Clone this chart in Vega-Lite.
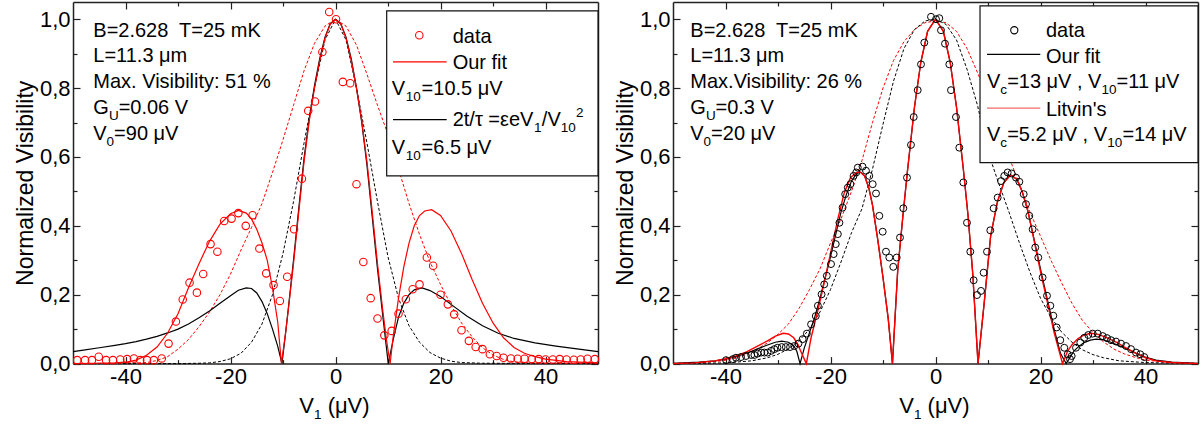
{
  "$schema": "https://vega.github.io/schema/vega-lite/v6.json",
  "background": "white",
  "padding": {"left": 14, "top": 1, "right": 4, "bottom": 0},
  "spacing": 13,
  "config": {
    "view": {"stroke": null},
    "font": "Liberation Sans",
    "axis": {"grid": false, "labelFontSize": 22, "titleFontSize": 23, "titleFontWeight": "normal", "domainColor": "#222", "tickColor": "#222", "labelColor": "#000", "titleColor": "#000", "tickWidth": 1.2, "domainWidth": 1.5}
  },
  "datasets": {
    "Lpts": [
      {"v":-49.2,"y":0.01},{"v":-47.7,"y":0.01},{"v":-46.4,"y":0.01},{"v":-45.1,"y":0.02},{"v":-43.7,"y":0.01},{"v":-42.4,"y":0.01},{"v":-41.0,"y":0.012},{"v":-39.7,"y":0.013},{"v":-38.4,"y":0.015},{"v":-37.2,"y":0.01},{"v":-35.9,"y":0.01},{"v":-34.6,"y":0.01},{"v":-33.1,"y":0.015},{"v":-31.8,"y":0.058},{"v":-30.4,"y":0.122},{"v":-29.1,"y":0.186},{"v":-27.8,"y":0.235},{"v":-26.4,"y":0.206},{"v":-25.2,"y":0.26},{"v":-23.8,"y":0.347},{"v":-22.5,"y":0.325},{"v":-21.2,"y":0.414},{"v":-19.8,"y":0.421},{"v":-18.5,"y":0.437},{"v":-17.1,"y":0.40},{"v":-15.8,"y":0.431},{"v":-14.5,"y":0.334},{"v":-13.2,"y":0.262},{"v":-11.8,"y":0.228},{"v":-10.6,"y":0.182},{"v":-9.2,"y":0.252},{"v":-7.9,"y":0.39},{"v":-6.4,"y":0.537},{"v":-5.2,"y":0.734},{"v":-3.9,"y":0.761},{"v":-2.5,"y":0.905},{"v":-1.2,"y":1.021},{"v":0.1,"y":1.0},{"v":1.4,"y":0.818},{"v":2.8,"y":0.814},{"v":4.0,"y":0.521},{"v":5.3,"y":0.295},{"v":6.7,"y":0.19},{"v":8.0,"y":0.131},{"v":9.3,"y":0.082},{"v":10.7,"y":0.095},{"v":12.0,"y":0.145},{"v":13.4,"y":0.187},{"v":14.7,"y":0.216},{"v":16.0,"y":0.23},{"v":17.4,"y":0.308},{"v":18.6,"y":0.284},{"v":20.0,"y":0.2},{"v":21.4,"y":0.172},{"v":22.6,"y":0.143},{"v":24.0,"y":0.097},{"v":25.4,"y":0.066},{"v":26.7,"y":0.048},{"v":28.0,"y":0.042},{"v":29.4,"y":0.027},{"v":30.7,"y":0.022},{"v":32.0,"y":0.017},{"v":33.4,"y":0.015},{"v":34.7,"y":0.014},{"v":36.0,"y":0.014},{"v":37.4,"y":0.013},{"v":38.7,"y":0.013},{"v":40.0,"y":0.012},{"v":41.4,"y":0.012},{"v":42.7,"y":0.013},{"v":44.0,"y":0.012},{"v":45.4,"y":0.011},{"v":46.7,"y":0.012},{"v":48.0,"y":0.014},{"v":49.4,"y":0.013}
    ],
    "Lrs": [
      {"v":-50,"y":0},{"v":-46,"y":0.001},{"v":-42,"y":0.002},{"v":-40,"y":0.004},{"v":-38,"y":0.01},{"v":-36,"y":0.024},{"v":-34,"y":0.048},{"v":-32,"y":0.088},{"v":-30,"y":0.145},{"v":-28,"y":0.22},{"v":-26,"y":0.29},{"v":-24,"y":0.355},{"v":-22,"y":0.405},{"v":-20,"y":0.435},{"v":-18.5,"y":0.445},{"v":-17,"y":0.437},{"v":-16,"y":0.42},{"v":-15,"y":0.39},{"v":-14,"y":0.35},{"v":-13,"y":0.3},{"v":-12,"y":0.22},{"v":-11,"y":0.12},{"v":-10.3,"y":0},{"v":-9.5,"y":0.09},{"v":-9,"y":0.155},{"v":-8,"y":0.29},{"v":-7,"y":0.44},{"v":-6,"y":0.585},{"v":-5,"y":0.705},{"v":-4,"y":0.8},{"v":-3,"y":0.88},{"v":-2,"y":0.945},{"v":-1,"y":0.986},{"v":0,"y":1.0},{"v":1,"y":0.986},{"v":2,"y":0.945},{"v":3,"y":0.88},{"v":4,"y":0.8},{"v":5,"y":0.705},{"v":6,"y":0.585},{"v":7,"y":0.44},{"v":8,"y":0.29},{"v":9,"y":0.155},{"v":9.7,"y":0.07},{"v":10.4,"y":0},{"v":11,"y":0.08},{"v":12,"y":0.19},{"v":13,"y":0.28},{"v":14,"y":0.35},{"v":15,"y":0.4},{"v":16,"y":0.43},{"v":17,"y":0.443},{"v":18.3,"y":0.447},{"v":20,"y":0.43},{"v":22,"y":0.385},{"v":24,"y":0.32},{"v":26,"y":0.245},{"v":28,"y":0.175},{"v":30,"y":0.118},{"v":32,"y":0.075},{"v":34,"y":0.047},{"v":36,"y":0.03},{"v":38,"y":0.02},{"v":40,"y":0.013},{"v":44,"y":0.006},{"v":50,"y":0.002}
    ],
    "Lbs": [
      {"v":-50,"y":0.035},{"v":-48,"y":0.039},{"v":-45,"y":0.046},{"v":-42,"y":0.053},{"v":-40,"y":0.058},{"v":-38,"y":0.064},{"v":-36,"y":0.071},{"v":-34,"y":0.079},{"v":-32,"y":0.089},{"v":-30,"y":0.1},{"v":-28,"y":0.115},{"v":-26,"y":0.133},{"v":-24,"y":0.153},{"v":-22,"y":0.175},{"v":-20,"y":0.197},{"v":-18.5,"y":0.213},{"v":-17,"y":0.22},{"v":-16,"y":0.218},{"v":-15,"y":0.205},{"v":-14,"y":0.18},{"v":-13,"y":0.145},{"v":-12,"y":0.1},{"v":-11,"y":0.05},{"v":-10.2,"y":0},{"v":-9.5,"y":0.09},{"v":-9,"y":0.158},{"v":-8,"y":0.3},{"v":-7,"y":0.45},{"v":-6,"y":0.595},{"v":-5,"y":0.712},{"v":-4,"y":0.807},{"v":-3,"y":0.886},{"v":-2,"y":0.948},{"v":-1,"y":0.987},{"v":0,"y":1.0},{"v":1,"y":0.987},{"v":2,"y":0.948},{"v":3,"y":0.885},{"v":4,"y":0.8},{"v":5,"y":0.7},{"v":6,"y":0.575},{"v":7,"y":0.425},{"v":8,"y":0.275},{"v":9,"y":0.14},{"v":10.05,"y":0},{"v":11,"y":0.07},{"v":12,"y":0.135},{"v":13,"y":0.175},{"v":14,"y":0.2},{"v":15,"y":0.214},{"v":16.5,"y":0.22},{"v":18,"y":0.212},{"v":20,"y":0.195},{"v":22,"y":0.172},{"v":25,"y":0.138},{"v":28,"y":0.11},{"v":31,"y":0.088},{"v":34,"y":0.073},{"v":38,"y":0.06},{"v":42,"y":0.051},{"v":46,"y":0.043},{"v":50,"y":0.035}
    ],
    "Lrd": [
      {"v":-50,"y":0},{"v":-40,"y":0.001},{"v":-36,"y":0.003},{"v":-34,"y":0.009},{"v":-32,"y":0.02},{"v":-30,"y":0.042},{"v":-28,"y":0.07},{"v":-26,"y":0.107},{"v":-24,"y":0.15},{"v":-22,"y":0.2},{"v":-20,"y":0.26},{"v":-18,"y":0.33},{"v":-16,"y":0.395},{"v":-14,"y":0.465},{"v":-12,"y":0.555},{"v":-10,"y":0.65},{"v":-8,"y":0.75},{"v":-6,"y":0.85},{"v":-4,"y":0.93},{"v":-2,"y":0.98},{"v":0,"y":1.0},{"v":2,"y":0.98},{"v":4,"y":0.925},{"v":6,"y":0.84},{"v":8,"y":0.75},{"v":10,"y":0.665},{"v":12,"y":0.565},{"v":14,"y":0.465},{"v":16,"y":0.375},{"v":18,"y":0.295},{"v":20,"y":0.23},{"v":22,"y":0.17},{"v":24,"y":0.118},{"v":26,"y":0.078},{"v":28,"y":0.046},{"v":30,"y":0.025},{"v":32,"y":0.012},{"v":34,"y":0.005},{"v":38,"y":0.001},{"v":50,"y":0}
    ],
    "Lbd": [
      {"v":-50,"y":0},{"v":-30,"y":0},{"v":-26,"y":0.001},{"v":-24,"y":0.002},{"v":-22,"y":0.006},{"v":-20,"y":0.014},{"v":-18,"y":0.03},{"v":-16,"y":0.062},{"v":-14,"y":0.115},{"v":-12,"y":0.2},{"v":-10,"y":0.32},{"v":-8,"y":0.47},{"v":-6,"y":0.64},{"v":-4,"y":0.8},{"v":-2,"y":0.94},{"v":0,"y":1.0},{"v":2,"y":0.94},{"v":4,"y":0.8},{"v":6,"y":0.64},{"v":8,"y":0.47},{"v":10,"y":0.31},{"v":12,"y":0.19},{"v":14,"y":0.11},{"v":16,"y":0.062},{"v":18,"y":0.032},{"v":20,"y":0.016},{"v":22,"y":0.007},{"v":24,"y":0.003},{"v":28,"y":0.001},{"v":50,"y":0}
    ],
    "Rpts": [
      {"v":-39.9,"y":0.01},{"v":-38.6,"y":0.013},{"v":-38.0,"y":0.017},{"v":-37.05,"y":0.019},{"v":-36.1,"y":0.022},{"v":-35.1,"y":0.025},{"v":-34.5,"y":0.025},{"v":-33.9,"y":0.029},{"v":-33.2,"y":0.032},{"v":-32.6,"y":0.032},{"v":-32.0,"y":0.032},{"v":-31.3,"y":0.037},{"v":-30.7,"y":0.042},{"v":-30.1,"y":0.046},{"v":-29.3,"y":0.048},{"v":-28.5,"y":0.048},{"v":-27.7,"y":0.048},{"v":-26.9,"y":0.051},{"v":-26.1,"y":0.058},{"v":-25.3,"y":0.071},{"v":-24.5,"y":0.087},{"v":-23.7,"y":0.114},{"v":-22.8,"y":0.138},{"v":-22.4,"y":0.168},{"v":-21.7,"y":0.201},{"v":-21.2,"y":0.23},{"v":-20.7,"y":0.255},{"v":-19.9,"y":0.289},{"v":-19.4,"y":0.318},{"v":-19.0,"y":0.347},{"v":-18.6,"y":0.376},{"v":-18.3,"y":0.409},{"v":-17.7,"y":0.453},{"v":-17.2,"y":0.492},{"v":-16.7,"y":0.511},{"v":-16.2,"y":0.521},{"v":-15.6,"y":0.545},{"v":-15.1,"y":0.555},{"v":-14.8,"y":0.569},{"v":-13.9,"y":0.572},{"v":-13.24,"y":0.56},{"v":-12.61,"y":0.545},{"v":-11.96,"y":0.521},{"v":-11.33,"y":0.494},{"v":-10.7,"y":0.429},{"v":-10.06,"y":0.383},{"v":-9.43,"y":0.325},{"v":-8.8,"y":0.308},{"v":-8.04,"y":0.281},{"v":-7.39,"y":0.308},{"v":-6.76,"y":0.366},{"v":-6.13,"y":0.451},{"v":-5.43,"y":0.54},{"v":-4.67,"y":0.635},{"v":-4.15,"y":0.716},{"v":-3.39,"y":0.794},{"v":-2.76,"y":0.869},{"v":-2.13,"y":0.932},{"v":-0.86,"y":1.007},{"v":0.1,"y":1.0},{"v":0.72,"y":1.003},{"v":1.05,"y":0.968},{"v":1.81,"y":0.929},{"v":2.63,"y":0.869},{"v":2.95,"y":0.794},{"v":3.9,"y":0.716},{"v":4.54,"y":0.627},{"v":5.3,"y":0.526},{"v":6.0,"y":0.409},{"v":6.63,"y":0.325},{"v":7.27,"y":0.242},{"v":7.9,"y":0.199},{"v":8.67,"y":0.211},{"v":9.17,"y":0.264},{"v":9.81,"y":0.325},{"v":10.44,"y":0.387},{"v":11.08,"y":0.451},{"v":11.84,"y":0.482},{"v":12.48,"y":0.53},{"v":13.1,"y":0.545},{"v":13.75,"y":0.555},{"v":14.5,"y":0.552},{"v":15.33,"y":0.54},{"v":15.97,"y":0.528},{"v":16.8,"y":0.492},{"v":17.24,"y":0.463},{"v":17.87,"y":0.429},{"v":18.5,"y":0.39},{"v":19.0,"y":0.337},{"v":19.58,"y":0.308},{"v":20.4,"y":0.25},{"v":21.24,"y":0.197},{"v":21.87,"y":0.168},{"v":22.44,"y":0.139},{"v":23.08,"y":0.105},{"v":23.77,"y":0.068},{"v":24.53,"y":0.046},{"v":25.18,"y":0.027},{"v":25.62,"y":0.013},{"v":25.94,"y":0.022},{"v":26.76,"y":0.046},{"v":27.58,"y":0.061},{"v":28.34,"y":0.075},{"v":29.1,"y":0.083},{"v":29.94,"y":0.087},{"v":30.9,"y":0.087},{"v":31.85,"y":0.08},{"v":32.67,"y":0.074},{"v":33.43,"y":0.068},{"v":34.38,"y":0.064},{"v":35.33,"y":0.058},{"v":36.29,"y":0.051},{"v":37.24,"y":0.042},{"v":38.19,"y":0.032},{"v":39.0,"y":0.027},{"v":39.77,"y":0.019}
    ],
    "Rrs": [
      {"v":-50,"y":0},{"v":-46,"y":0.002},{"v":-42,"y":0.008},{"v":-40,"y":0.014},{"v":-38,"y":0.022},{"v":-36,"y":0.034},{"v":-34,"y":0.05},{"v":-32,"y":0.066},{"v":-30.5,"y":0.08},{"v":-29,"y":0.088},{"v":-28,"y":0.086},{"v":-27,"y":0.075},{"v":-26.2,"y":0.055},{"v":-25.5,"y":0.03},{"v":-24.6,"y":0},{"v":-23.7,"y":0.075},{"v":-22.4,"y":0.155},{"v":-21.2,"y":0.235},{"v":-20,"y":0.32},{"v":-18.6,"y":0.42},{"v":-17.4,"y":0.495},{"v":-16.2,"y":0.54},{"v":-15,"y":0.555},{"v":-14.3,"y":0.556},{"v":-13.5,"y":0.545},{"v":-12.7,"y":0.51},{"v":-12,"y":0.46},{"v":-11,"y":0.36},{"v":-10,"y":0.25},{"v":-9,"y":0.13},{"v":-8.2,"y":0},{"v":-7.2,"y":0.27},{"v":-6.2,"y":0.43},{"v":-5.3,"y":0.565},{"v":-4,"y":0.745},{"v":-2.8,"y":0.875},{"v":-1.5,"y":0.965},{"v":0,"y":1.0},{"v":1.5,"y":0.965},{"v":2.8,"y":0.875},{"v":4,"y":0.745},{"v":5.3,"y":0.565},{"v":6.2,"y":0.43},{"v":7.1,"y":0.26},{"v":8.1,"y":0},{"v":9.3,"y":0.18},{"v":10.5,"y":0.37},{"v":11.8,"y":0.47},{"v":13,"y":0.525},{"v":14.3,"y":0.548},{"v":15.5,"y":0.535},{"v":16.5,"y":0.5},{"v":17.6,"y":0.443},{"v":18.8,"y":0.356},{"v":20.1,"y":0.26},{"v":21.4,"y":0.172},{"v":22.6,"y":0.09},{"v":24.2,"y":0},{"v":25.2,"y":0.037},{"v":26,"y":0.055},{"v":27.1,"y":0.072},{"v":28.3,"y":0.083},{"v":29.6,"y":0.088},{"v":31,"y":0.085},{"v":32.5,"y":0.076},{"v":34.7,"y":0.06},{"v":36,"y":0.048},{"v":37.9,"y":0.032},{"v":40,"y":0.017},{"v":42,"y":0.008},{"v":45,"y":0.003},{"v":50,"y":0}
    ],
    "Rbs": [
      {"v":-50,"y":0.001},{"v":-45,"y":0.004},{"v":-42,"y":0.008},{"v":-40,"y":0.013},{"v":-38,"y":0.02},{"v":-36,"y":0.03},{"v":-34,"y":0.042},{"v":-32,"y":0.054},{"v":-30.5,"y":0.062},{"v":-29.3,"y":0.065},{"v":-28,"y":0.062},{"v":-27,"y":0.052},{"v":-26.4,"y":0.035},{"v":-25.8,"y":0},{"v":-25,"y":0.045},{"v":-24,"y":0.09},{"v":-23,"y":0.135},{"v":-22,"y":0.19},{"v":-21,"y":0.25},{"v":-20,"y":0.31},{"v":-19,"y":0.375},{"v":-18,"y":0.44},{"v":-17,"y":0.49},{"v":-16,"y":0.53},{"v":-15,"y":0.552},{"v":-14.3,"y":0.556},{"v":-13.5,"y":0.545},{"v":-12.7,"y":0.51},{"v":-12,"y":0.46},{"v":-11,"y":0.36},{"v":-10,"y":0.25},{"v":-9,"y":0.13},{"v":-8.2,"y":0},{"v":-7.2,"y":0.27},{"v":-6.2,"y":0.43},{"v":-5.3,"y":0.565},{"v":-4,"y":0.745},{"v":-2.8,"y":0.875},{"v":-1.5,"y":0.965},{"v":0,"y":1.0},{"v":1.5,"y":0.965},{"v":2.8,"y":0.875},{"v":4,"y":0.745},{"v":5.3,"y":0.565},{"v":6.2,"y":0.43},{"v":7.1,"y":0.26},{"v":8.1,"y":0},{"v":9.3,"y":0.18},{"v":10.5,"y":0.37},{"v":11.8,"y":0.47},{"v":13,"y":0.525},{"v":14.3,"y":0.548},{"v":15.5,"y":0.535},{"v":16.5,"y":0.5},{"v":17.6,"y":0.443},{"v":18.8,"y":0.36},{"v":20.1,"y":0.268},{"v":21.4,"y":0.18},{"v":22.6,"y":0.1},{"v":23.8,"y":0.03},{"v":24.9,"y":0},{"v":25.7,"y":0.02},{"v":26.4,"y":0.037},{"v":27.3,"y":0.05},{"v":28.3,"y":0.061},{"v":29.5,"y":0.068},{"v":30.6,"y":0.071},{"v":32,"y":0.069},{"v":33.4,"y":0.062},{"v":35,"y":0.052},{"v":36.6,"y":0.042},{"v":38.2,"y":0.03},{"v":39.8,"y":0.02},{"v":42,"y":0.01},{"v":45,"y":0.004},{"v":50,"y":0.001}
    ],
    "Rrd": [
      {"v":-50,"y":0.001},{"v":-44,"y":0.003},{"v":-40,"y":0.009},{"v":-38,"y":0.016},{"v":-36,"y":0.027},{"v":-34,"y":0.042},{"v":-32,"y":0.06},{"v":-30,"y":0.085},{"v":-28,"y":0.115},{"v":-26,"y":0.16},{"v":-24,"y":0.215},{"v":-22,"y":0.275},{"v":-20,"y":0.35},{"v":-18,"y":0.42},{"v":-16,"y":0.5},{"v":-14,"y":0.59},{"v":-12,"y":0.7},{"v":-10,"y":0.8},{"v":-8,"y":0.88},{"v":-6,"y":0.935},{"v":-4,"y":0.97},{"v":-2,"y":0.99},{"v":0,"y":0.995},{"v":2,"y":0.99},{"v":4,"y":0.965},{"v":6,"y":0.915},{"v":8,"y":0.845},{"v":10,"y":0.77},{"v":12,"y":0.69},{"v":14,"y":0.6},{"v":16,"y":0.52},{"v":18,"y":0.44},{"v":20,"y":0.37},{"v":22,"y":0.3},{"v":24,"y":0.235},{"v":26,"y":0.175},{"v":28,"y":0.125},{"v":30,"y":0.09},{"v":32,"y":0.063},{"v":34,"y":0.042},{"v":36,"y":0.028},{"v":38,"y":0.018},{"v":40,"y":0.01},{"v":44,"y":0.004},{"v":50,"y":0.001}
    ],
    "Rbd": [
      {"v":-50,"y":0},{"v":-40,"y":0.002},{"v":-35,"y":0.008},{"v":-32,"y":0.017},{"v":-30,"y":0.027},{"v":-28,"y":0.043},{"v":-26,"y":0.066},{"v":-24,"y":0.1},{"v":-22,"y":0.15},{"v":-20,"y":0.215},{"v":-18,"y":0.295},{"v":-16,"y":0.38},{"v":-14,"y":0.45},{"v":-12,"y":0.565},{"v":-10,"y":0.695},{"v":-8,"y":0.82},{"v":-6,"y":0.915},{"v":-4,"y":0.97},{"v":-2,"y":0.995},{"v":0,"y":1.0},{"v":2,"y":0.985},{"v":4,"y":0.94},{"v":6,"y":0.855},{"v":8,"y":0.75},{"v":10,"y":0.615},{"v":12,"y":0.525},{"v":14,"y":0.44},{"v":16,"y":0.35},{"v":18,"y":0.265},{"v":20,"y":0.19},{"v":22,"y":0.134},{"v":24,"y":0.092},{"v":26,"y":0.062},{"v":28,"y":0.04},{"v":30,"y":0.026},{"v":32,"y":0.017},{"v":35,"y":0.008},{"v":40,"y":0.003},{"v":50,"y":0}
    ],
    "Ltxt": [
      {"k":"m","v":-46.13,"y":0.9486,"t":"B=2.628\u00a0 T=25 mK"},
      {"k":"m","v":-46.13,"y":0.876,"t":"L=11.3 μm"},
      {"k":"m","v":-46.13,"y":0.8014,"t":"Max. Visibility: 51 %"},
      {"k":"m","v":-46.13,"y":0.7259,"t":"G"},
      {"k":"s","v":-43.16,"y":0.7259,"t":"U"},
      {"k":"m","v":-41.31,"y":0.7259,"t":"=0.06 V"},
      {"k":"m","v":-46.13,"y":0.6487,"t":"V"},
      {"k":"s","v":-43.6,"y":0.6487,"t":"0"},
      {"k":"m","v":-42.17,"y":0.6487,"t":"=90 μV"},
      {"k":"m","v":22.32,"y":0.932,"t":"data"},
      {"k":"m","v":22.32,"y":0.855,"t":"Our fit"},
      {"k":"m","v":10.7,"y":0.78,"t":"V"},
      {"k":"s","v":13.4,"y":0.78,"t":"10"},
      {"k":"m","v":16.4,"y":0.78,"t":"=10.5 μV"},
      {"k":"m","v":22.32,"y":0.69,"t":"2t/τ =εeV"},
      {"k":"s","v":37.8,"y":0.69,"t":"1"},
      {"k":"m","v":39.3,"y":0.69,"t":"/V"},
      {"k":"s","v":42.9,"y":0.69,"t":"10"},
      {"k":"u","v":45.8,"y":0.69,"t":"2"},
      {"k":"m","v":10.7,"y":0.608,"t":"V"},
      {"k":"s","v":13.4,"y":0.608,"t":"10"},
      {"k":"m","v":16.4,"y":0.608,"t":"=6.5 μV"},
      {"k":"x","v":-6.9,"y":-0.1423,"t":"V"},
      {"k":"xs","v":-4.1,"y":-0.1423,"t":"1"},
      {"k":"x","v":-1.5,"y":-0.1423,"t":"(μV)"}
    ],
    "Rtxt": [
      {"k":"m","v":-46.7,"y":0.9486,"t":"B=2.628\u00a0 T=25 mK"},
      {"k":"m","v":-46.7,"y":0.876,"t":"L=11.3 μm"},
      {"k":"m","v":-46.7,"y":0.8014,"t":"Max.Visibility: 26 %"},
      {"k":"m","v":-46.7,"y":0.7259,"t":"G"},
      {"k":"s","v":-43.73,"y":0.7259,"t":"U"},
      {"k":"m","v":-41.9,"y":0.7259,"t":"=0.3 V"},
      {"k":"m","v":-46.7,"y":0.6487,"t":"V"},
      {"k":"s","v":-44.17,"y":0.6487,"t":"0"},
      {"k":"m","v":-42.74,"y":0.6487,"t":"=20 μV"},
      {"k":"m","v":21.05,"y":0.9486,"t":"data"},
      {"k":"m","v":21.05,"y":0.874,"t":"Our fit"},
      {"k":"m","v":9.81,"y":0.7997,"t":"V"},
      {"k":"s","v":12.35,"y":0.7997,"t":"c"},
      {"k":"m","v":13.65,"y":0.7997,"t":"=13 μV , V"},
      {"k":"s","v":31.6,"y":0.7997,"t":"10"},
      {"k":"m","v":34.5,"y":0.7997,"t":"=11 μV"},
      {"k":"m","v":21.05,"y":0.719,"t":"Litvin's"},
      {"k":"m","v":9.81,"y":0.6466,"t":"V"},
      {"k":"s","v":12.35,"y":0.6466,"t":"c"},
      {"k":"m","v":13.65,"y":0.6466,"t":"=5.2 μV , V"},
      {"k":"s","v":32.7,"y":0.6466,"t":"10"},
      {"k":"m","v":35.6,"y":0.6466,"t":"=14 μV"},
      {"k":"x","v":-6.9,"y":-0.1423,"t":"V"},
      {"k":"xs","v":-4.1,"y":-0.1423,"t":"1"},
      {"k":"x","v":-1.5,"y":-0.1423,"t":"(μV)"}
    ],
    "Lbox": [{"v1":9.75,"v2":50,"y1":1.024,"y2":0.545}],
    "Rbox": [{"v1":8.48,"v2":50,"y1":1.0386,"y2":0.5836}],
    "Lleg": [{"s":"red","v1":10.95,"v2":21.18,"y":0.876},{"s":"blk","v1":10.95,"v2":21.18,"y":0.7085}],
    "Rleg": [{"s":"blk","v1":9.81,"v2":19.96,"y":0.898},{"s":"lit","v1":9.81,"v2":19.96,"y":0.7416}],
    "Llegpt": [{"v":15.96,"y":0.9535}],
    "Rlegpt": [{"v":15.01,"y":0.968}]
  },
  "hconcat": [
    {
      "width": 525, "height": 361.6,
      "resolve": {"axis": {"x": "independent", "y": "independent"}},
      "layer": [
        {"data": {"name": "Lrd"}, "mark": {"type": "line", "color": "#ff0000", "strokeWidth": 1, "strokeDash": [3, 2]},
         "encoding": {
           "x": {"field": "v", "type": "quantitative", "scale": {"domain": [-50, 50], "nice": false}, "axis": {"orient": "bottom", "values": [-40, -20, 0, 20, 40], "tickSize": -7, "labelPadding": 10, "title": null, "labelFlush": false, "labelExpr": "(datum.value < 0 ? '-' : '') + abs(datum.value)"}},
           "y": {"field": "y", "type": "quantitative", "scale": {"domain": [0, 1.05], "nice": false}, "axis": {"orient": "left", "values": [0, 0.2, 0.4, 0.6, 0.8, 1.0], "tickSize": -7, "labelPadding": 10, "title": "Normalized Visibility", "titlePadding": 2, "labelExpr": "replace(format(datum.value, '.1f'), '.', ',')"}}
         }},
        {"data": {"name": "Lbd"}, "mark": {"type": "line", "color": "#000000", "strokeWidth": 1, "strokeDash": [3, 2]},
         "encoding": {
           "x": {"field": "v", "type": "quantitative", "scale": {"domain": [-50, 50], "nice": false}, "axis": {"orient": "bottom", "values": [-30, -10, 10, 30], "tickSize": -4, "labels": false, "domain": false, "title": null}},
           "y": {"field": "y", "type": "quantitative", "scale": {"domain": [0, 1.05], "nice": false}, "axis": {"orient": "left", "values": [0.1, 0.3, 0.5, 0.7, 0.9], "tickSize": -4, "labels": false, "domain": false, "title": null}}
         }},
        {"data": {"name": "Lbs"}, "mark": {"type": "line", "color": "#000000", "strokeWidth": 1.2},
         "encoding": {
           "x": {"field": "v", "type": "quantitative", "scale": {"domain": [-50, 50], "nice": false}, "axis": {"orient": "top", "values": [-40, -20, 0, 20, 40], "tickSize": -7, "labels": false, "title": null}},
           "y": {"field": "y", "type": "quantitative", "scale": {"domain": [0, 1.05], "nice": false}, "axis": {"orient": "right", "values": [0, 0.2, 0.4, 0.6, 0.8, 1.0], "tickSize": -7, "labels": false, "title": null}}
         }},
        {"data": {"name": "Lrs"}, "mark": {"type": "line", "color": "#ff0000", "strokeWidth": 1.2},
         "encoding": {
           "x": {"field": "v", "type": "quantitative", "scale": {"domain": [-50, 50], "nice": false}, "axis": {"orient": "top", "values": [-30, -10, 10, 30], "tickSize": -4, "labels": false, "domain": false, "title": null}},
           "y": {"field": "y", "type": "quantitative", "scale": {"domain": [0, 1.05], "nice": false}, "axis": {"orient": "right", "values": [0.1, 0.3, 0.5, 0.7, 0.9], "tickSize": -4, "labels": false, "domain": false, "title": null}}
         }},
        {"data": {"name": "Lpts"}, "mark": {"type": "point", "shape": "circle", "filled": false, "color": "#ff0000", "size": 56, "strokeWidth": 1.1, "opacity": 1},
         "encoding": {
           "x": {"field": "v", "type": "quantitative", "scale": {"domain": [-50, 50], "nice": false}, "axis": null},
           "y": {"field": "y", "type": "quantitative", "scale": {"domain": [0, 1.05], "nice": false}, "axis": null}
         }},
        {"data": {"name": "Lbox"}, "mark": {"type": "rect", "fill": "white", "stroke": "#111", "strokeWidth": 1.2},
         "encoding": {
           "x": {"field": "v1", "type": "quantitative", "scale": {"domain": [-50, 50], "nice": false}, "axis": null},
           "x2": {"field": "v2"},
           "y": {"field": "y1", "type": "quantitative", "scale": {"domain": [0, 1.05], "nice": false}, "axis": null},
           "y2": {"field": "y2"}
         }},
        {"data": {"name": "Lleg"}, "mark": {"type": "rule", "strokeWidth": 1.2},
         "encoding": {
           "x": {"field": "v1", "type": "quantitative", "scale": {"domain": [-50, 50], "nice": false}, "axis": null},
           "x2": {"field": "v2"},
           "y": {"field": "y", "type": "quantitative", "scale": {"domain": [0, 1.05], "nice": false}, "axis": null},
           "color": {"field": "s", "type": "nominal", "scale": {"domain": ["red", "blk", "lit"], "range": ["#ff0000", "#000000", "#f26d6d"]}, "legend": null}
         }},
        {"data": {"name": "Llegpt"}, "mark": {"type": "point", "shape": "circle", "filled": false, "color": "#ff0000", "size": 56, "strokeWidth": 1.1, "opacity": 1},
         "encoding": {
           "x": {"field": "v", "type": "quantitative", "scale": {"domain": [-50, 50], "nice": false}, "axis": null},
           "y": {"field": "y", "type": "quantitative", "scale": {"domain": [0, 1.05], "nice": false}, "axis": null}
         }},
        {"data": {"name": "Ltxt"}, "transform": [{"filter": "datum.k === 'm'"}], "mark": {"type": "text", "align": "left", "baseline": "alphabetic", "fontSize": 20, "color": "#000"},
         "encoding": {
           "x": {"field": "v", "type": "quantitative", "scale": {"domain": [-50, 50], "nice": false}, "axis": null},
           "y": {"field": "y", "type": "quantitative", "scale": {"domain": [0, 1.05], "nice": false}, "axis": null},
           "text": {"field": "t"}
         }},
        {"data": {"name": "Ltxt"}, "transform": [{"filter": "datum.k === 'x'"}], "mark": {"type": "text", "align": "left", "baseline": "alphabetic", "fontSize": 22, "color": "#000"},
         "encoding": {
           "x": {"field": "v", "type": "quantitative", "scale": {"domain": [-50, 50], "nice": false}, "axis": null},
           "y": {"field": "y", "type": "quantitative", "scale": {"domain": [0, 1.05], "nice": false}, "axis": null},
           "text": {"field": "t"}
         }},
        {"data": {"name": "Ltxt"}, "transform": [{"filter": "datum.k === 's' || datum.k === 'xs'"}], "mark": {"type": "text", "align": "left", "baseline": "alphabetic", "fontSize": 13.5, "dy": 6, "color": "#000"},
         "encoding": {
           "x": {"field": "v", "type": "quantitative", "scale": {"domain": [-50, 50], "nice": false}, "axis": null},
           "y": {"field": "y", "type": "quantitative", "scale": {"domain": [0, 1.05], "nice": false}, "axis": null},
           "text": {"field": "t"}
         }},
        {"data": {"name": "Ltxt"}, "transform": [{"filter": "datum.k === 'u'"}], "mark": {"type": "text", "align": "left", "baseline": "alphabetic", "fontSize": 13.5, "dy": -9, "color": "#000"},
         "encoding": {
           "x": {"field": "v", "type": "quantitative", "scale": {"domain": [-50, 50], "nice": false}, "axis": null},
           "y": {"field": "y", "type": "quantitative", "scale": {"domain": [0, 1.05], "nice": false}, "axis": null},
           "text": {"field": "t"}
         }}
      ]
    },
    {
      "width": 525, "height": 361.6,
      "resolve": {"axis": {"x": "independent", "y": "independent"}},
      "layer": [
        {"data": {"name": "Rrd"}, "mark": {"type": "line", "color": "#ff0000", "strokeWidth": 1, "strokeDash": [3, 2]},
         "encoding": {
           "x": {"field": "v", "type": "quantitative", "scale": {"domain": [-50, 50], "nice": false}, "axis": {"orient": "bottom", "values": [-40, -20, 0, 20, 40], "tickSize": -7, "labelPadding": 10, "title": null, "labelFlush": false, "labelExpr": "(datum.value < 0 ? '-' : '') + abs(datum.value)"}},
           "y": {"field": "y", "type": "quantitative", "scale": {"domain": [0, 1.05], "nice": false}, "axis": {"orient": "left", "values": [0, 0.2, 0.4, 0.6, 0.8, 1.0], "tickSize": -7, "labelPadding": 10, "title": "Normalized Visibility", "titlePadding": 2, "labelExpr": "replace(format(datum.value, '.1f'), '.', ',')"}}
         }},
        {"data": {"name": "Rbd"}, "mark": {"type": "line", "color": "#000000", "strokeWidth": 1, "strokeDash": [3, 2]},
         "encoding": {
           "x": {"field": "v", "type": "quantitative", "scale": {"domain": [-50, 50], "nice": false}, "axis": {"orient": "bottom", "values": [-30, -10, 10, 30], "tickSize": -4, "labels": false, "domain": false, "title": null}},
           "y": {"field": "y", "type": "quantitative", "scale": {"domain": [0, 1.05], "nice": false}, "axis": {"orient": "left", "values": [0.1, 0.3, 0.5, 0.7, 0.9], "tickSize": -4, "labels": false, "domain": false, "title": null}}
         }},
        {"data": {"name": "Rbs"}, "mark": {"type": "line", "color": "#000000", "strokeWidth": 1.2},
         "encoding": {
           "x": {"field": "v", "type": "quantitative", "scale": {"domain": [-50, 50], "nice": false}, "axis": {"orient": "top", "values": [-40, -20, 0, 20, 40], "tickSize": -7, "labels": false, "title": null}},
           "y": {"field": "y", "type": "quantitative", "scale": {"domain": [0, 1.05], "nice": false}, "axis": {"orient": "right", "values": [0, 0.2, 0.4, 0.6, 0.8, 1.0], "tickSize": -7, "labels": false, "title": null}}
         }},
        {"data": {"name": "Rrs"}, "mark": {"type": "line", "color": "#ff0000", "strokeWidth": 1.4},
         "encoding": {
           "x": {"field": "v", "type": "quantitative", "scale": {"domain": [-50, 50], "nice": false}, "axis": {"orient": "top", "values": [-30, -10, 10, 30], "tickSize": -4, "labels": false, "domain": false, "title": null}},
           "y": {"field": "y", "type": "quantitative", "scale": {"domain": [0, 1.05], "nice": false}, "axis": {"orient": "right", "values": [0.1, 0.3, 0.5, 0.7, 0.9], "tickSize": -4, "labels": false, "domain": false, "title": null}}
         }},
        {"data": {"name": "Rpts"}, "mark": {"type": "point", "shape": "circle", "filled": false, "color": "#000000", "size": 48, "strokeWidth": 1, "opacity": 1},
         "encoding": {
           "x": {"field": "v", "type": "quantitative", "scale": {"domain": [-50, 50], "nice": false}, "axis": null},
           "y": {"field": "y", "type": "quantitative", "scale": {"domain": [0, 1.05], "nice": false}, "axis": null}
         }},
        {"data": {"name": "Rbox"}, "mark": {"type": "rect", "fill": "white", "stroke": "#111", "strokeWidth": 1.2},
         "encoding": {
           "x": {"field": "v1", "type": "quantitative", "scale": {"domain": [-50, 50], "nice": false}, "axis": null},
           "x2": {"field": "v2"},
           "y": {"field": "y1", "type": "quantitative", "scale": {"domain": [0, 1.05], "nice": false}, "axis": null},
           "y2": {"field": "y2"}
         }},
        {"data": {"name": "Rleg"}, "mark": {"type": "rule"},
         "encoding": {
           "x": {"field": "v1", "type": "quantitative", "scale": {"domain": [-50, 50], "nice": false}, "axis": null},
           "x2": {"field": "v2"},
           "y": {"field": "y", "type": "quantitative", "scale": {"domain": [0, 1.05], "nice": false}, "axis": null},
           "color": {"field": "s", "type": "nominal", "scale": {"domain": ["red", "blk", "lit"], "range": ["#ff0000", "#000000", "#f26d6d"]}, "legend": null},
           "strokeWidth": {"field": "s", "type": "nominal", "scale": {"domain": ["red", "blk", "lit"], "range": [1.2, 1.2, 2.4]}, "legend": null}
         }},
        {"data": {"name": "Rlegpt"}, "mark": {"type": "point", "shape": "circle", "filled": false, "color": "#000000", "size": 52, "strokeWidth": 1.1, "opacity": 1},
         "encoding": {
           "x": {"field": "v", "type": "quantitative", "scale": {"domain": [-50, 50], "nice": false}, "axis": null},
           "y": {"field": "y", "type": "quantitative", "scale": {"domain": [0, 1.05], "nice": false}, "axis": null}
         }},
        {"data": {"name": "Rtxt"}, "transform": [{"filter": "datum.k === 'm'"}], "mark": {"type": "text", "align": "left", "baseline": "alphabetic", "fontSize": 20, "color": "#000"},
         "encoding": {
           "x": {"field": "v", "type": "quantitative", "scale": {"domain": [-50, 50], "nice": false}, "axis": null},
           "y": {"field": "y", "type": "quantitative", "scale": {"domain": [0, 1.05], "nice": false}, "axis": null},
           "text": {"field": "t"}
         }},
        {"data": {"name": "Rtxt"}, "transform": [{"filter": "datum.k === 'x'"}], "mark": {"type": "text", "align": "left", "baseline": "alphabetic", "fontSize": 22, "color": "#000"},
         "encoding": {
           "x": {"field": "v", "type": "quantitative", "scale": {"domain": [-50, 50], "nice": false}, "axis": null},
           "y": {"field": "y", "type": "quantitative", "scale": {"domain": [0, 1.05], "nice": false}, "axis": null},
           "text": {"field": "t"}
         }},
        {"data": {"name": "Rtxt"}, "transform": [{"filter": "datum.k === 's' || datum.k === 'xs'"}], "mark": {"type": "text", "align": "left", "baseline": "alphabetic", "fontSize": 13.5, "dy": 6, "color": "#000"},
         "encoding": {
           "x": {"field": "v", "type": "quantitative", "scale": {"domain": [-50, 50], "nice": false}, "axis": null},
           "y": {"field": "y", "type": "quantitative", "scale": {"domain": [0, 1.05], "nice": false}, "axis": null},
           "text": {"field": "t"}
         }}
      ]
    }
  ]
}
